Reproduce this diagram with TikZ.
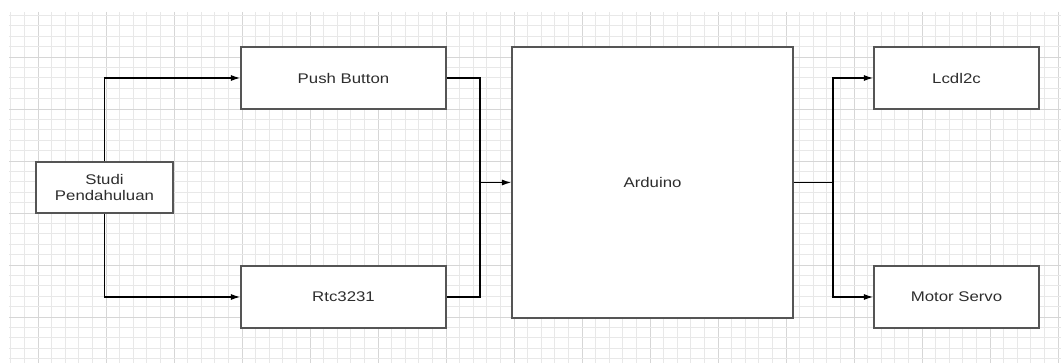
\documentclass[tikz,border=0pt]{standalone}
\usepackage{fontspec}
\usepackage{tikz}
\usetikzlibrary{arrows.meta, positioning}
\newfontfamily\diafont[FakeStretch=1.2]{Liberation Sans}
\definecolor{GridMinor}{RGB}{232,232,232}
\definecolor{GridMajor}{RGB}{214,214,214}
\definecolor{BoxLine}{RGB}{85,85,85}
\definecolor{TextGray}{RGB}{45,45,45}

\begin{document}
\begin{tikzpicture}[x=0.75pt, y=-0.75pt,
          box/.style={rectangle, draw=BoxLine, fill=white, line width=1.1pt,
                      font=\diafont\fontsize{10.5}{12.5}\selectfont,
                      text=TextGray, align=center, inner sep=0pt},
          arr/.style={-{Latex[length=7pt, width=4.5pt]}, line width=0.9pt},
          wire/.style={line width=0.9pt},
          gridminor/.style={GridMinor, line width=0.5pt},
          gridmajor/.style={GridMajor, line width=0.7pt}
        ]
        \useasboundingbox (0,0) rectangle (1061,363);

        % Background grid
        \foreach \i in {0,...,77} {
          \pgfmathtruncatemacro{\m}{mod(\i+3,5)}
          \ifnum\m=0
            \draw[gridmajor] ({10.8+13.6*\i},12) -- ({10.8+13.6*\i},363);
          \else
            \draw[gridminor] ({10.8+13.6*\i},12) -- ({10.8+13.6*\i},363);
          \fi
        }
        \foreach \j in {0,...,33} {
          \pgfmathtruncatemacro{\m}{mod(\j+1,5)}
          \ifnum\m=0
            \draw[gridmajor] (9,{15.4+10.4*\j}) -- (1061,{15.4+10.4*\j});
          \else
            \draw[gridminor] (9,{15.4+10.4*\j}) -- (1061,{15.4+10.4*\j});
          \fi
        }

        % Input side
        \node[box, minimum width=102.75pt, minimum height=38.25pt]
              (studi) at (104.5, 187.5) {Studi\\Pendahuluan};
        \node[box, minimum width=153.75pt, minimum height=46.5pt]
              (push) at (343.5, 78) {Push Button};
        \node[box, minimum width=153.75pt, minimum height=46.5pt]
              (rtc) at (343.5, 297) {Rtc3231};

        % Controller
        \node[box, minimum width=210.75pt, minimum height=203.25pt]
              (ard) at (652.5, 182.5) {Arduino};

        % Output side
        \node[box, minimum width=123.75pt, minimum height=46.5pt]
              (lcd) at (956.5, 78) {Lcdl2c};
        \node[box, minimum width=123.75pt, minimum height=46.5pt]
              (servo) at (956.5, 297) {Motor Servo};

        % Junction points
        \coordinate (mergeL) at (480, 182.5);
        \coordinate (splitR) at (833, 182.5);

        % Connectors
        \draw[arr] (studi.north) |- (push.west);
        \draw[arr] (studi.south) |- (rtc.west);
        \draw[wire] (push.east) -| (mergeL);
        \draw[wire] (rtc.east) -| (mergeL);
        \draw[arr] (mergeL) -- (ard.west);
        \draw[wire] (ard.east) -- (splitR);
        \draw[arr] (splitR) |- (lcd.west);
        \draw[arr] (splitR) |- (servo.west);
      \end{tikzpicture}
\end{document}
